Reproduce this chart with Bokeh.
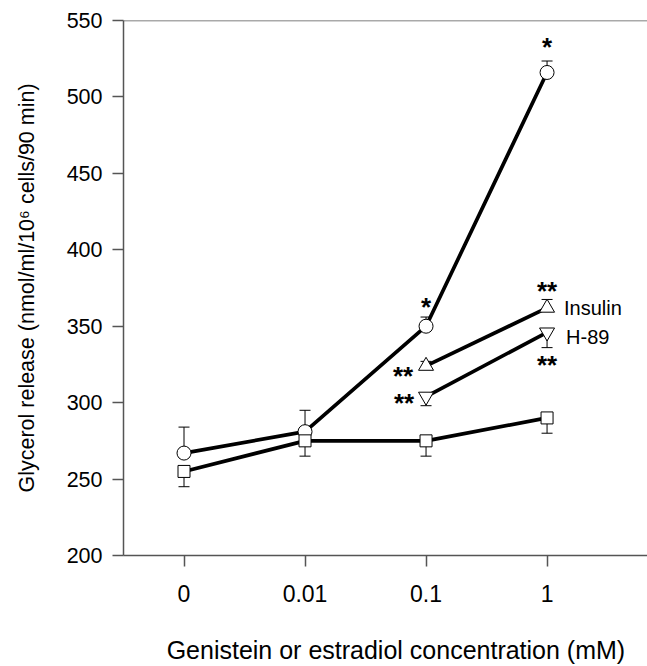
from bokeh.plotting import figure
from bokeh.models import Range1d, FixedTicker, Span
from bokeh.core.properties import value
from bokeh.embed import file_html
from bokeh.resources import INLINE

# ---- data ----
x_labels = ["0", "0.01", "0.1", "1"]
x_pos = [0, 1, 2, 3]

circle_y = [267, 281, 350, 516]
circle_err_top = [284, 295, 356, 523.5]

square_y = [255, 275, 275, 290]
square_err_bottom = [245, 265, 265, 280]

insulin_x = [2, 3]
insulin_y = [324, 362]
insulin_err_top = [327, 367.5]

h89_x = [2, 3]
h89_y = [304, 346]
h89_err_bottom = [298, 336]

y_ticks = [200, 250, 300, 350, 400, 450, 500, 550]

x_title = "Genistein or estradiol concentration (mM)"
y_title = "Glycerol release (nmol/ml/10\u2076 cells/90 min)"

FONT = "Liberation Sans"

p = figure(width=647, height=666, output_backend="svg", toolbar_location=None,
           min_border_left=123, min_border_right=0, min_border_top=20, min_border_bottom=110,
           x_range=Range1d(-0.5, 3.83), y_range=Range1d(200, 550))
p.background_fill_color = "white"
p.border_fill_color = "white"
p.outline_line_color = None
p.xgrid.visible = False
p.ygrid.visible = False

# axes
for ax in (p.xaxis[0], p.yaxis[0]):
    ax.axis_line_color = "#555555"
    ax.axis_line_width = 1.5
    ax.major_tick_line_color = "#555555"
    ax.major_tick_line_width = 1.5
    ax.major_tick_in = 0
    ax.major_tick_out = 11
    ax.minor_tick_line_color = None
    ax.major_label_text_font = FONT
    ax.major_label_text_color = "black"
    ax.axis_label_text_font = FONT
    ax.axis_label_text_font_style = "normal"
    ax.axis_label_text_color = "black"

p.xaxis.ticker = FixedTicker(ticks=x_pos)
p.xaxis.major_label_overrides = {i: s for i, s in zip(x_pos, x_labels)}
p.xaxis.major_label_text_font_size = "23px"
p.xaxis.major_label_standoff = 18
# leading no-break spaces nudge the centred title slightly right, as in the reference
p.xaxis.axis_label = "\u00a0\u00a0\u00a0" + x_title
p.xaxis.axis_label_text_font_size = "25px"
p.xaxis.axis_label_standoff = 31

p.yaxis.ticker = FixedTicker(ticks=y_ticks)
p.yaxis.major_label_text_font_size = "21.5px"
p.yaxis.major_label_standoff = 10
p.yaxis.axis_label = y_title
p.yaxis.axis_label_text_font_size = "21.5px"
p.yaxis.axis_label_standoff = 25

top = Span(location=550, dimension="width", line_color="#555555", line_width=1.5)
p.add_layout(top)

# error bars
cap = 11
p.segment(x_pos, circle_y, x_pos, circle_err_top, line_color="black", line_width=1)
p.scatter(x_pos, circle_err_top, marker="dash", size=cap, line_color="black", line_width=1)
p.segment(x_pos, square_y, x_pos, square_err_bottom, line_color="black", line_width=1)
p.scatter(x_pos, square_err_bottom, marker="dash", size=cap, line_color="black", line_width=1)
p.segment(insulin_x, insulin_y, insulin_x, insulin_err_top, line_color="black", line_width=1)
p.scatter(insulin_x, insulin_err_top, marker="dash", size=cap, line_color="black", line_width=1)
p.segment(h89_x, h89_y, h89_x, h89_err_bottom, line_color="black", line_width=1)
p.scatter(h89_x, h89_err_bottom, marker="dash", size=cap, line_color="black", line_width=1)

# lines
lw = 3.7
p.line(x_pos, circle_y, line_color="black", line_width=lw)
p.line(x_pos, square_y, line_color="black", line_width=lw)
p.line(insulin_x, insulin_y, line_color="black", line_width=lw)
p.line(h89_x, h89_y, line_color="black", line_width=lw)

# markers
p.scatter(x_pos, circle_y, marker="circle", size=14, fill_color="white", line_color="black", line_width=1)
p.scatter(x_pos, square_y, marker="square", size=12, fill_color="white", line_color="black", line_width=1)
p.scatter(insulin_x, insulin_y, marker="triangle", size=15, fill_color="white", line_color="black", line_width=1)
p.scatter(h89_x, h89_y, marker="inverted_triangle", size=15, fill_color="white", line_color="black", line_width=1)

# series labels
p.text([3], [insulin_y[1]], text=["Insulin"], x_offset=17, y_offset=0,
       text_font=value(FONT), text_font_size="20px", text_baseline="middle", text_align="left")
p.text([3], [h89_y[1]], text=["H-89"], x_offset=19, y_offset=5,
       text_font=value(FONT), text_font_size="20px", text_baseline="middle", text_align="left")

# significance marks
star_kw = dict(text_font=value(FONT), text_font_size="26px", text_font_style="bold",
               text_baseline="middle", text_align="center")
p.text([3], [circle_y[3]], text=["*"], x_offset=0, y_offset=-25, **star_kw)
p.text([2], [circle_y[2]], text=["*"], x_offset=0, y_offset=-19, **star_kw)
p.text([3], [insulin_y[1]], text=["**"], x_offset=0, y_offset=-17, **star_kw)
p.text([3], [h89_y[1]], text=["**"], x_offset=0, y_offset=33, **star_kw)
p.text([2], [insulin_y[0]], text=["**"], x_offset=-23, y_offset=10, **star_kw)
p.text([2], [h89_y[0]], text=["**"], x_offset=-22, y_offset=6, **star_kw)

open("out.html", "w").write(file_html(p, INLINE))
